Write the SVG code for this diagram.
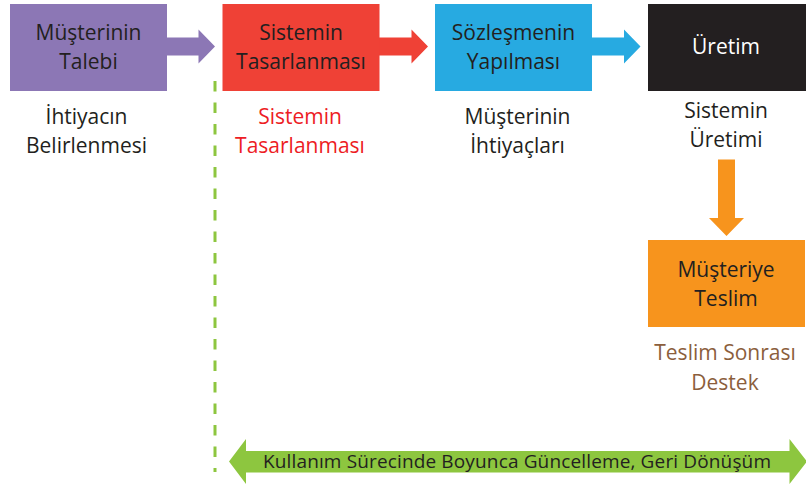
<svg xmlns="http://www.w3.org/2000/svg" width="806" height="486" viewBox="0 0 806 486">
  <style>
    text { font-family: "Open Sans", "Noto Sans", "Liberation Sans", sans-serif; text-anchor: middle; }
    .box { font-size: 21px; fill: #231f20; }
    .lbl { font-size: 21px; fill: #231f20; }
    .white { fill: #ffffff; }
    .red { fill: #ed1c24; }
    .brown { fill: #8b5e3c; }
    .bar { font-size: 19px; fill: #231f20; }
  </style>
  <rect width="806" height="486" fill="#ffffff"/>

  <!-- connectors -->
  <g id="connectors">
    <polygon fill="#8c77b5" points="166,37.5 198.5,37.5 198.5,29.5 215,46.5 198.5,63.5 198.5,55.5 166,55.5"/>
    <polygon fill="#ef4136" points="379,37.5 411.5,37.5 411.5,29.5 428,46.5 411.5,63.5 411.5,55.5 379,55.5"/>
    <polygon fill="#27aae1" points="591,37.5 624,37.5 624,29.5 640.5,46.5 624,63.5 624,55.5 591,55.5"/>
    <polygon fill="#f7941d" points="718,159.5 735,159.5 735,218 744,218 726.5,236 709,218 718,218"/>
    <line x1="215" y1="81" x2="215" y2="472" stroke="#8dc63f" stroke-width="3" stroke-dasharray="10.5 11"/>
  </g>

  <g id="musteri-talebi">
    <rect x="10" y="4" width="157" height="87" fill="#8c77b5"/>
    <text class="box" x="88.5" y="39.5">Müşterinin</text>
    <text class="box" x="88.5" y="68.5">Talebi</text>
    <text class="lbl" x="86.5" y="124">İhtiyacın</text>
    <text class="lbl" x="86.5" y="153">Belirlenmesi</text>
  </g>

  <g id="sistem-tasarimi">
    <rect x="222.5" y="4" width="157" height="87" fill="#ef4136"/>
    <text class="box" x="301" y="39.5">Sistemin</text>
    <text class="box" x="301" y="68.5">Tasarlanması</text>
    <text class="lbl red" x="300" y="124">Sistemin</text>
    <text class="lbl red" x="300" y="153">Tasarlanması</text>
  </g>

  <g id="sozlesme">
    <rect x="435" y="4" width="157" height="87" fill="#27aae1"/>
    <text class="box" x="513.5" y="39.5">Sözleşmenin</text>
    <text class="box" x="513.5" y="68.5">Yapılması</text>
    <text class="lbl" x="517.5" y="124">Müşterinin</text>
    <text class="lbl" x="517.5" y="153">İhtiyaçları</text>
  </g>

  <g id="uretim">
    <rect x="648" y="4" width="158" height="87" fill="#231f20"/>
    <text class="box white" x="726" y="53.5">Üretim</text>
    <text class="lbl" x="726" y="118">Sistemin</text>
    <text class="lbl" x="726" y="147">Üretimi</text>
  </g>

  <g id="teslim">
    <rect x="648" y="240" width="157" height="87" fill="#f7941d"/>
    <text class="box" x="726" y="277">Müşteriye</text>
    <text class="box" x="726" y="305.5">Teslim</text>
    <text class="lbl brown" x="725" y="360">Teslim Sonrası</text>
    <text class="lbl brown" x="725" y="390">Destek</text>
  </g>

  <g id="guncelleme">
    <polygon fill="#8dc63f" points="229,461.5 246,439 246,451 789.5,451 789.5,439 807,461.5 789.5,484 789.5,472.5 246,472.5 246,484"/>
    <text class="bar" x="517" y="467.5" textLength="508" lengthAdjust="spacing">Kullanım Sürecinde Boyunca Güncelleme, Geri Dönüşüm</text>
  </g>
</svg>
